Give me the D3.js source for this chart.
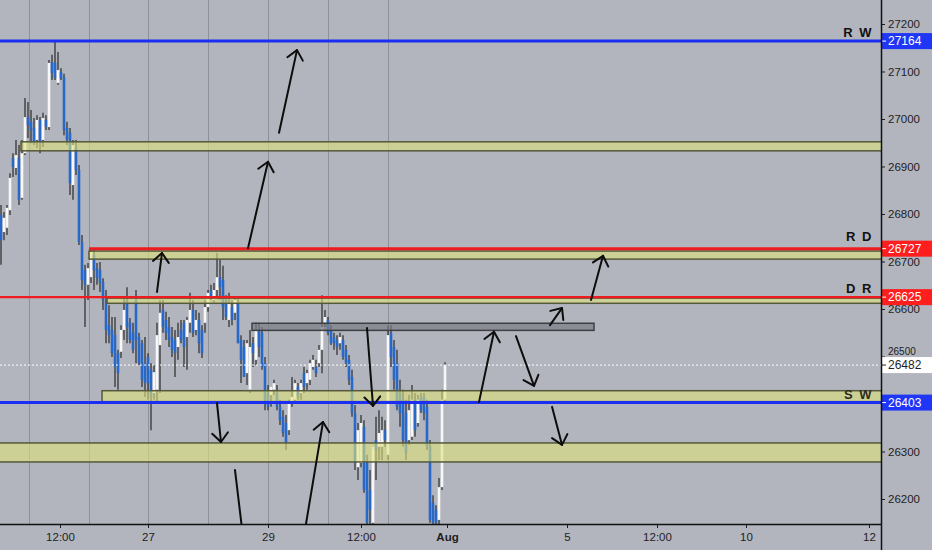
<!DOCTYPE html>
<html>
<head>
<meta charset="utf-8">
<script src="https://cdnjs.cloudflare.com/ajax/libs/d3/7.8.5/d3.min.js"></script>
<style>
  body { margin: 0; background: #b2b5be; }
  svg { display: block; font-family: "Liberation Sans", Arial, sans-serif; }
</style>
</head>
<body>
<svg id="chart"></svg>
<script>
//*************** data ******************//

// one row per candle: [open, high, low, close]
var candles = [
  [26798,26819,26693,26745],[26762,26804,26745,26792],[26771,26819,26756,26813],[26808,26886,26798,26876],
  [26918,26928,26878,26899],[26897,26956,26882,26924],[26918,26945,26819,26830],[26834,26956,26830,26928],
  [26928,27044,26924,27004],[27004,27036,26960,26987],[26994,27019,26949,26977],[26981,27002,26945,26949],
  [26956,27008,26939,26998],[26998,27004,26928,26952],[26956,27013,26941,27002],[26998,27008,26977,26983],
  [26983,27124,26977,27118],[27120,27135,27082,27097],[27118,27166,27082,27086],[27076,27141,27072,27103],
  [27099,27107,27082,27086],[27088,27095,26966,26977],[26981,26994,26945,26956],[26971,26981,26840,26865],
  [26861,26956,26830,26945],[26939,26956,26882,26893],[26893,26903,26735,26741],[26741,26756,26640,26661],
  [26682,26693,26562,26651],[26651,26697,26619,26686],[26667,26728,26655,26720],[26714,26724,26640,26682],
  [26686,26697,26651,26665],[26682,26699,26636,26655],[26657,26665,26598,26619],[26619,26640,26528,26556],
  [26566,26608,26528,26545],[26556,26583,26499,26507],[26545,26583,26436,26478],[26507,26514,26430,26465],
  [26510,26566,26497,26556],[26556,26625,26535,26598],[26619,26646,26528,26562],[26571,26581,26528,26535],
  [26550,26571,26507,26514],[26619,26640,26486,26535],[26541,26550,26482,26486],[26528,26535,26436,26451],
  [26486,26541,26415,26444],[26499,26507,26409,26444],[26472,26486,26345,26415],[26423,26482,26409,26467],
  [26430,26571,26402,26545],[26524,26619,26423,26592],[26598,26619,26550,26562],[26577,26594,26535,26550],
  [26562,26583,26520,26535],[26541,26562,26499,26514],[26535,26556,26457,26507],[26520,26571,26493,26541],
  [26556,26577,26528,26535],[26571,26577,26478,26520],[26541,26583,26472,26577],[26571,26634,26550,26598],
  [26598,26619,26541,26550],[26556,26598,26545,26577],[26577,26592,26507,26528],[26556,26566,26497,26507],
  [26571,26619,26550,26604],[26604,26640,26594,26634],[26640,26651,26619,26625],[26619,26655,26613,26640],
  [26640,26718,26625,26667],[26667,26703,26619,26646],[26661,26691,26577,26604],[26619,26629,26577,26583],
  [26577,26634,26562,26613],[26604,26619,26566,26577],[26592,26625,26577,26619],[26613,26625,26528,26528],
  [26535,26545,26444,26493],[26520,26535,26457,26457],[26465,26535,26440,26528],[26430,26556,26423,26520],
  [26528,26541,26478,26507],[26493,26571,26482,26556],[26556,26571,26499,26520],[26550,26562,26472,26478],
  [26486,26499,26387,26402],[26423,26440,26387,26394],[26419,26436,26394,26436],[26430,26451,26419,26444],
  [26423,26440,26387,26394],[26394,26409,26356,26366],[26373,26387,26331,26339],[26360,26377,26303,26318],
  [26345,26409,26335,26402],[26402,26457,26394,26415],[26409,26451,26402,26444],[26436,26444,26409,26415],
  [26423,26451,26409,26444],[26465,26478,26423,26436],[26444,26472,26430,26465],[26451,26493,26440,26486],
  [26478,26503,26472,26493],[26478,26493,26457,26465],[26486,26524,26478,26514],[26514,26629,26465,26562],
  [26571,26598,26562,26583],[26577,26583,26545,26550],[26556,26566,26524,26528],[26541,26550,26514,26528],
  [26535,26545,26503,26520],[26528,26550,26514,26541],[26535,26545,26493,26499],[26514,26524,26478,26486],
  [26493,26503,26440,26451],[26457,26472,26373,26381],[26381,26398,26261,26276],[26267,26360,26240,26345],
  [26276,26377,26267,26360],[26352,26366,26213,26219],[26276,26293,26135,26150],[26219,26261,26135,26177],
  [26150,26310,26135,26310],[26324,26373,26240,26303],[26310,26387,26282,26339],[26310,26373,26282,26345],
  [26345,26366,26310,26324],[26293,26566,26282,26545],[26550,26566,26478,26499],[26520,26535,26430,26451],
  [26486,26514,26387,26394],[26423,26451,26352,26381],[26409,26430,26310,26324],[26381,26409,26282,26297],
  [26324,26419,26314,26387],[26331,26440,26324,26409],[26409,26423,26331,26345],[26360,26419,26352,26409],
  [26415,26423,26381,26387],[26415,26423,26366,26381],[26394,26409,26303,26310],[26310,26324,26150,26156],
  [26192,26208,26135,26150],[26177,26187,26135,26150],[26156,26244,26139,26225],[26225,26430,26219,26409],
  [26409,26488,26402,26482]
];

// price axis (26400 sits under the S W price tag, so it is not labelled)
var yTicks = [26200, 26300, 26500, 26600, 26700, 26800, 26900, 27000, 27100, 27200];

// time axis, in candle slots
var xTickSlots  = [19.67, 49, 89, 120, 148.67, 188.67, 218.67, 248.33, 289.33];
var xTickLabels = ["12:00", "27", "29", "12:00", "Aug", "5", "12:00", "10", "12"];
var gridSlots   = [9.33, 29.33, 49, 69, 89, 109, 129];

// key levels
var levelNames  = ["R W", "R D", "D R", "S W"];
var levelPrices = [27164, 26727, 26625, 26403];
var levelFrom   = [-1, 29.33, -1, -1];
var levelKinds  = ["week", "day", "day", "week"];
var lastPrice   = 26482;

// zones: low / high price and slot range
var zoneLow  = [26933, 26705, 26612, 26555, 26405, 26278];
var zoneHigh = [26952, 26722, 26623, 26570, 26428, 26318];
var zoneFrom = [6.67, 29.33, 35.33, 83.67, 33.67, -2];
var zoneTo   = [294, 294, 294, 197.67, 294, 294];
var zoneKind = ["yellow", "yellow", "yellow", "grey", "yellow", "yellow"];

// hand drawn arrows: [slot, price] start and end, arrowHead flag
var arrowFrom = [[92.67,26971],[82.33,26728],[52,26636],[72,26402],[78,26261],[101.33,26135],
                 [122,26560],[159.33,26404],[171.67,26543],[183,26566],[196.67,26619],[183.67,26394]];
var arrowTo   = [[98.67,27145],[89,26910],[53.67,26718],[73.33,26320],[80.67,26120],[107.33,26362],
                 [124,26396],[164.33,26552],[177.67,26438],[187,26602],[200.67,26712],[187,26314]];
var arrowHead = [true, true, true, true, false, true, true, true, true, true, true, true];


//*************** initialise canvas ******************//

var totalWidth = 932, totalHeight = 550;
var plotRight = 881, plotBottom = 524;

var svg = d3.select("svg#chart")
.attr("width", totalWidth)
.attr("height", totalHeight);

svg.append("rect")
.attr("width", totalWidth)
.attr("height", totalHeight)
.attr("fill", "#b2b5be");

var xScale = d3.scaleLinear().domain([0, 880 / 3]).range([1, plotRight]),
    yScale = d3.scaleLinear().domain([26147.4, 27250.5]).range([plotBottom, 0]);

svg.append("clipPath")
.attr("id", "plot-clip")
.append("rect")
.attr("width", plotRight)
.attr("height", plotBottom);

var plot = svg.append("g")
.attr("clip-path", "url(#plot-clip)");

var levelColor = d3.scaleOrdinal().domain(["week", "day"]).range(["#1b2ef2", "#ee1c1f"]);
var tagColor = d3.scaleOrdinal().domain(["week", "day"]).range(["#1f36f6", "#ff1d1d"]);


//--------------- grid lines
plot.selectAll(".grid")
.data(gridSlots)
.enter().append("line")
.attr("class", "grid")
.attr("x1", function(d) { return Math.round(xScale(d)) + 0.5; })
.attr("x2", function(d) { return Math.round(xScale(d)) + 0.5; })
.attr("y1", 0)
.attr("y2", plotBottom)
.attr("stroke", "#8e9198")
.attr("stroke-width", 1);


//--------------- candles
var candleG = plot.append("g").attr("class", "candles");

candleG.selectAll(".wick")
.data(candles)
.enter().append("line")
.attr("class", "wick")
.attr("x1", function(d, i) { return xScale(i); })
.attr("x2", function(d, i) { return xScale(i); })
.attr("y1", function(d) { return yScale(d[1]); })
.attr("y2", function(d) { return yScale(d[2]); })
.attr("stroke", "#1c1c1c")
.attr("stroke-width", 1.1);

candleG.selectAll(".body")
.data(candles)
.enter().append("rect")
.attr("class", "body")
.attr("x", function(d, i) { return xScale(i) - 1.3; })
.attr("width", 2.6)
.attr("y", function(d) { return yScale(Math.max(d[0], d[3])); })
.attr("height", function(d) { return Math.max(1.5, Math.abs(yScale(d[0]) - yScale(d[3]))); })
.attr("fill", function(d) { return d[3] >= d[0] ? "#f7f7f7" : "#2768c9"; });


//--------------- zones
plot.selectAll(".zone")
.data(zoneLow)
.enter().append("rect")
.attr("class", "zone")
.attr("x", function(d, i) { return xScale(zoneFrom[i]); })
.attr("width", function(d, i) { return xScale(zoneTo[i]) - xScale(zoneFrom[i]); })
.attr("y", function(d, i) { return yScale(zoneHigh[i]); })
.attr("height", function(d, i) { return yScale(d) - yScale(zoneHigh[i]); })
.attr("fill", function(d, i) { return zoneKind[i] == "grey" ? "#7a7d86" : "#dfe27a"; })
.attr("fill-opacity", function(d, i) { return zoneKind[i] == "grey" ? 0.72 : 0.6; })
.attr("stroke", function(d, i) { return zoneKind[i] == "grey" ? "#3e3f42" : "#55583a"; })
.attr("stroke-width", 1.5);


//--------------- level lines
plot.append("line")
.attr("x1", 0)
.attr("x2", plotRight)
.attr("y1", yScale(lastPrice))
.attr("y2", yScale(lastPrice))
.attr("stroke", "#ffffff")
.attr("stroke-width", 1)
.attr("stroke-dasharray", "2,2");

plot.selectAll(".level")
.data(levelPrices)
.enter().append("line")
.attr("class", "level")
.attr("x1", function(d, i) { return xScale(levelFrom[i]); })
.attr("x2", plotRight)
.attr("y1", function(d) { return yScale(d); })
.attr("y2", function(d) { return yScale(d); })
.attr("stroke", function(d, i) { return levelColor(levelKinds[i]); })
.attr("stroke-width", function(d, i) { return i == 2 ? 2.2 : 3; });

svg.selectAll(".level-name")
.data(levelNames)
.enter().append("text")
.attr("class", "level-name")
.attr("x", plotRight - 8)
.attr("y", function(d, i) { return yScale(levelPrices[i]) - (i == 1 ? 8 : 4); })
.attr("text-anchor", "end")
.attr("font-size", "13px")
.attr("font-weight", "bold")
.attr("letter-spacing", "1.5px")
.attr("fill", function(d, i) { return i == 3 ? "#2c2c1e" : "#111"; })
.text(function(d) { return d; });


//--------------- arrows
var arrowG = plot.append("g").attr("class", "arrows");

arrowFrom.forEach(function(start, i) {
    var x1 = xScale(start[0]), y1 = yScale(start[1]);
    var x2 = xScale(arrowTo[i][0]), y2 = yScale(arrowTo[i][1]);

    arrowG.append("line")
    .attr("x1", x1).attr("y1", y1)
    .attr("x2", x2).attr("y2", y2)
    .attr("stroke", "#0d0d0d")
    .attr("stroke-width", 2)
    .attr("stroke-linecap", "round");

    if (arrowHead[i]) {
        var ang = Math.atan2(y1 - y2, x1 - x2), spread = 0.72, len = 12;
        var p = d3.path();
        p.moveTo(x2 + len * Math.cos(ang + spread), y2 + len * Math.sin(ang + spread));
        p.lineTo(x2, y2);
        p.lineTo(x2 + len * Math.cos(ang - spread), y2 + len * Math.sin(ang - spread));
        arrowG.append("path")
        .attr("d", p.toString())
        .attr("fill", "none")
        .attr("stroke", "#0d0d0d")
        .attr("stroke-width", 2)
        .attr("stroke-linejoin", "round")
        .attr("stroke-linecap", "round");
    }
});


//*************** axes ******************//

var yAxis = d3.axisRight(yScale)
.tickValues(yTicks)
.tickFormat(d3.format("d"))
.tickSize(4)
.tickPadding(3);

var y_axis = svg.append("g")
.attr("transform", "translate(" + plotRight + ",0)")
.call(yAxis);

var xAxis = d3.axisBottom(xScale)
.tickValues(xTickSlots)
.tickFormat(function(d, i) { return xTickLabels[i]; })
.tickSize(4)
.tickPadding(5);

var x_axis = svg.append("g")
.attr("transform", "translate(0," + plotBottom + ")")
.call(xAxis);

[x_axis, y_axis].forEach(function(ax) {
    ax.select(".domain").remove();
    ax.selectAll("text")
    .attr("font-family", "Liberation Sans, Arial, sans-serif")
    .attr("font-size", "11.5px")
    .attr("fill", "#1e1e1e");
    ax.selectAll("line").attr("stroke", "#1e1e1e");
});

x_axis.selectAll("text")
.attr("font-weight", function(d, i) { return xTickLabels[i] == "Aug" ? "bold" : "normal"; });

// the 26500 label sits just above the last price tag
y_axis.selectAll(".tick text")
.attr("dy", function(d) { return d == 26500 ? "-0.2em" : "0.32em"; })
.attr("font-size", function(d) { return d == 26500 ? "10px" : "11.5px"; });

// price tags on the right scale
var tagPrices = levelPrices.concat([lastPrice]);
var tags = svg.selectAll(".tag")
.data(tagPrices)
.enter().append("g")
.attr("class", "tag")
.attr("transform", function(d) { return "translate(" + plotRight + "," + yScale(d) + ")"; });

tags.append("rect")
.attr("x", 0)
.attr("y", -8)
.attr("width", totalWidth - plotRight)
.attr("height", 16)
.attr("fill", function(d, i) { return i < 4 ? tagColor(levelKinds[i]) : "#ffffff"; });

tags.append("line")
.attr("x1", 1).attr("x2", 5)
.attr("stroke", function(d, i) { return i < 4 ? "#ffffff" : "#1e1e1e"; });

tags.append("text")
.attr("x", 7)
.attr("dy", "0.35em")
.attr("font-size", "12px")
.attr("fill", function(d, i) { return i < 4 ? "#ffffff" : "#1e1e1e"; })
.text(function(d) { return d; });

// axis lines
svg.append("line")
.attr("x1", plotRight + 0.5).attr("x2", plotRight + 0.5)
.attr("y1", 0).attr("y2", totalHeight)
.attr("stroke", "#111").attr("stroke-width", 1.5);

svg.append("line")
.attr("x1", 0).attr("x2", plotRight)
.attr("y1", plotBottom + 0.5).attr("y2", plotBottom + 0.5)
.attr("stroke", "#111").attr("stroke-width", 1.5);
</script>
</body>
</html>
